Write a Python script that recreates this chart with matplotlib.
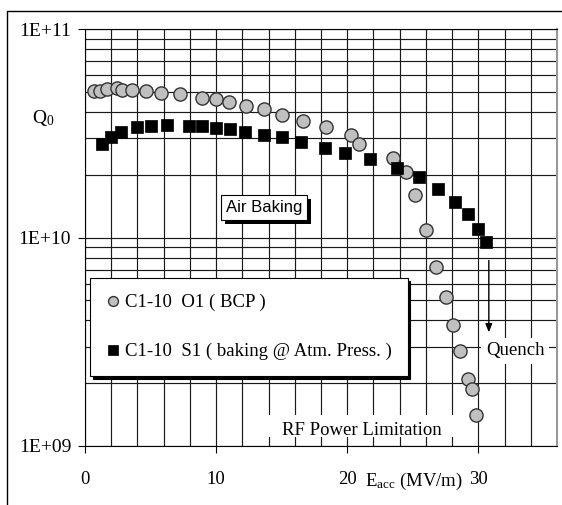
import numpy as np
import matplotlib
matplotlib.use('agg')
import matplotlib.pyplot as plt
from matplotlib.lines import Line2D
from matplotlib.patches import Rectangle
import matplotlib.patheffects as pe
from matplotlib.ticker import FixedLocator, MultipleLocator, NullFormatter

plt.rcParams['font.family'] = ['Liberation Serif', 'DejaVu Serif']
plt.rcParams['mathtext.fontset'] = 'custom'
plt.rcParams['mathtext.rm'] = 'Liberation Serif'
plt.rcParams['mathtext.it'] = 'Liberation Serif:italic'

# C1-10 O1 (BCP) - grey circles
x_bcp = [0.7, 1.15, 1.7, 2.45, 2.8, 3.6, 4.65, 5.8, 7.25, 8.95, 10.0, 11.0, 12.3, 13.65,
         15.0, 16.6, 18.4, 20.3, 20.9, 23.5, 24.5, 25.2, 26.0, 26.8, 27.5, 28.1, 28.6,
         29.2, 29.5, 29.85]
q_bcp = [5.04e10, 5.04e10, 5.16e10, 5.21e10, 5.1e10, 5.1e10, 5.04e10, 4.93e10, 4.88e10,
         4.67e10, 4.61e10, 4.47e10, 4.27e10, 4.13e10, 3.87e10, 3.62e10, 3.39e10, 3.1e10,
         2.81e10, 2.4e10, 2.06e10, 1.6e10, 1.09e10, 7.2e9, 5.2e9, 3.8e9, 2.86e9, 2.1e9,
         1.88e9, 1.41e9]

# C1-10 S1 (baking @ Atm. Press.) - black squares
x_bake = [1.3, 2.0, 2.75, 3.95, 5.05, 6.25, 7.95, 8.95, 10.0, 11.05, 12.2, 13.65, 15.0,
          16.5, 18.3, 19.85, 21.7, 23.8, 25.5, 26.9, 28.2, 29.2, 30.0, 30.6]
q_bake = [2.81e10, 3.03e10, 3.21e10, 3.39e10, 3.43e10, 3.47e10, 3.43e10, 3.43e10, 3.35e10,
          3.31e10, 3.21e10, 3.1e10, 3.03e10, 2.87e10, 2.69e10, 2.54e10, 2.38e10, 2.15e10,
          1.95e10, 1.71e10, 1.48e10, 1.3e10, 1.1e10, 9.5e9]

label_bcp = 'C1-10  O1 ( BCP )'
label_bake = 'C1-10  S1 ( baking @ Atm. Press. )'
y_ticks = [1e9, 1e10, 1e11]
y_ticklabels = ['1E+09', '1E+10', '1E+11']
x_ticks = [0, 10, 20, 30]

fig = plt.figure(figsize=(5.62, 5.05), dpi=100)
ax = fig.add_axes([85/562, 1-446/505, 472/562, 417/505])

ax.set_yscale('log')
ax.set_xlim(0, 36)
ax.set_ylim(1e9, 1e11)

ax.plot(x_bcp, q_bcp, 'o', ms=9.5, mfc='#c0c0c0', mec='#333333', mew=1.0,
        label=label_bcp, zorder=4)
ax.plot(x_bake, q_bake, 's', ms=9, mfc='black', mec='black', mew=0.5,
        label=label_bake, zorder=5)

# grid on every minor step
ax.xaxis.set_major_locator(FixedLocator(x_ticks))
ax.xaxis.set_minor_locator(MultipleLocator(2))
ax.yaxis.set_major_locator(FixedLocator(y_ticks))
ax.yaxis.set_minor_locator(FixedLocator([m * 10**e for e in (9, 10) for m in range(2, 10)]))
ax.yaxis.set_minor_formatter(NullFormatter())
ax.set_yticklabels(y_ticklabels)
ax.grid(True, which='both', color='#1a1a1a', lw=0.85)
ax.set_axisbelow(True)

ax.tick_params(axis='both', which='minor', length=0)
ax.tick_params(axis='x', which='major', length=5, width=0.8, pad=13, labelsize=13.5)
ax.tick_params(axis='y', which='major', length=5, width=0.8, pad=5, labelsize=14)

for s in ('left', 'bottom', 'top'):
    ax.spines[s].set_color('black')
    ax.spines[s].set_linewidth(0.8)
ax.spines['right'].set_color('#999999')
ax.spines['right'].set_linewidth(1.5)

# axis labels
ax.text(25.1, -0.085, r'$\mathrm{E_{acc}}$ (MV/m)', transform=ax.get_xaxis_transform(),
        ha='center', va='center', fontsize=13.5)
fig.text(43/562, 1-118/505, r'$\mathrm{Q_0}$', ha='center', va='center', fontsize=14)

# legend with hard black shadow
leg = ax.legend(loc='upper left', bbox_to_anchor=(0.0106, 0.403), borderaxespad=0,
                fontsize=13.5, frameon=True, fancybox=False, markerscale=0.75,
                handlelength=0.7, handletextpad=0.3, labelspacing=1.7,
                borderpad=0.85, shadow={'color': 'black', 'alpha': 1, 'shade': 1})
leg.get_frame().set_edgecolor('black')
leg.get_frame().set_linewidth(0.8)
leg.set_zorder(6)

# Air Baking box
t = ax.text(13.65, 1.4e10, 'Air Baking', family='Liberation Sans', fontsize=12,
            ha='center', va='center', zorder=6,
            bbox=dict(boxstyle='square,pad=0.3', fc='white', ec='black', lw=0.8))
t.get_bbox_patch().set_path_effects([
    pe.SimplePatchShadow(offset=(3, -3), shadow_rgbFace='black', alpha=1), pe.Normal()])

# RF Power Limitation
ax.add_patch(Rectangle((13.85, 1.1e9), 14.35, 0.31e9, fc='white', ec='none', zorder=2))
ax.text(21.1, 1.19e9, 'RF Power Limitation', fontsize=13.5, ha='center', va='center', zorder=3)

# Quench
ax.text(32.8, 2.86e9, 'Quench', fontsize=13.5, ha='center', va='center', zorder=3,
        bbox=dict(boxstyle='square,pad=0.25', fc='white', ec='none'))
ax.annotate('', xy=(30.8, 3.4e9), xytext=(30.8, 8.0e9),
            arrowprops=dict(arrowstyle='-|>,head_length=0.5,head_width=0.2', color='black', lw=1),
            zorder=3)

# outer frame
fig.add_artist(Line2D([7/562, 7/562, 1], [0, 1-11/505, 1-11/505], color='black', lw=1))

fig.savefig('out.png', dpi=100)
